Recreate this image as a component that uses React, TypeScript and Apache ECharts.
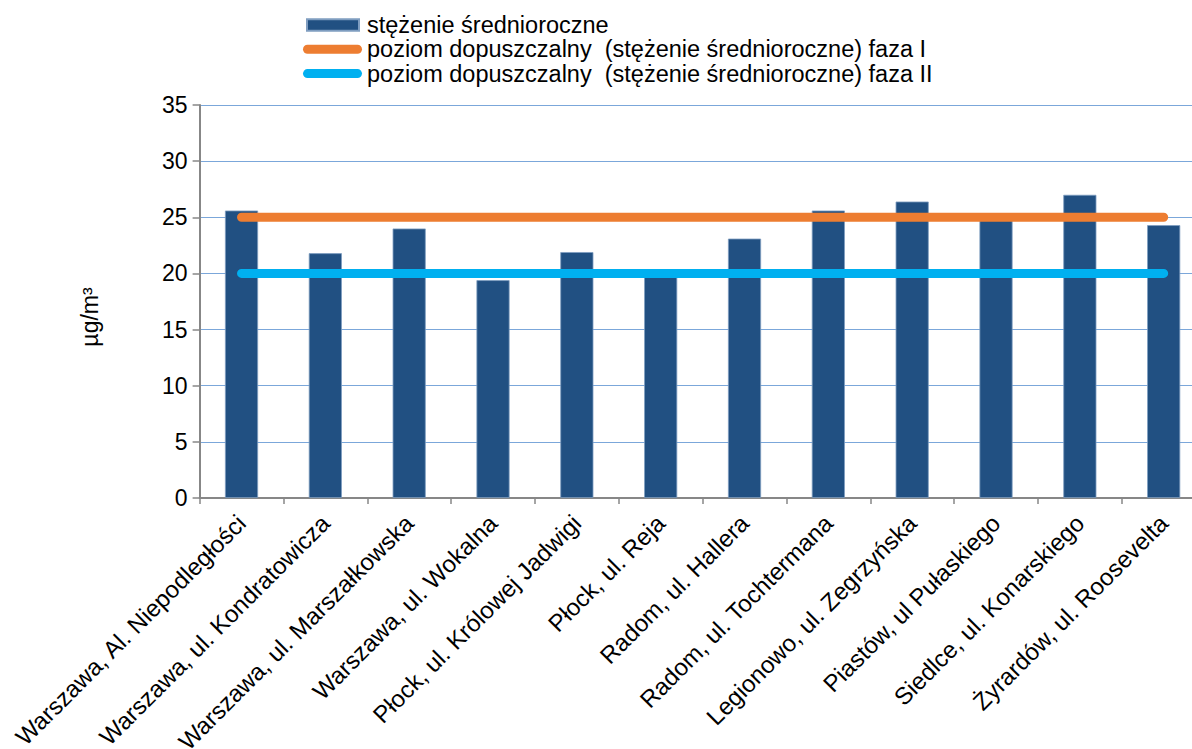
import React, { useEffect, useRef } from "react";
import * as echarts from "echarts";

const categories = [
  "Warszawa, Al. Niepodległości",
  "Warszawa, ul. Kondratowicza",
  "Warszawa, ul. Marszałkowska",
  "Warszawa, ul. Wokalna",
  "Płock, ul. Królowej Jadwigi",
  "Płock, ul. Reja",
  "Radom, ul. Hallera",
  "Radom, ul. Tochtermana",
  "Legionowo, ul. Zegrzyńska",
  "Piastów, ul Pułaskiego",
  "Siedlce, ul. Konarskiego",
  "Żyrardów, ul. Roosevelta",
];

const annualMean = [25.6, 21.8, 24.0, 19.4, 21.9, 19.8, 23.1, 25.6, 26.4, 24.9, 27.0, 24.3];
const limitPhase1 = [25, 25, 25, 25, 25, 25, 25, 25, 25, 25, 25, 25];
const limitPhase2 = [20, 20, 20, 20, 20, 20, 20, 20, 20, 20, 20, 20];

const seriesNames = [
  "stężenie średnioroczne",
  "poziom dopuszczalny  (stężenie średnioroczne) faza I",
  "poziom dopuszczalny  (stężenie średnioroczne) faza II",
];

const yAxisTitle = "µg/m³";

const FONT = "'Liberation Sans', Arial, sans-serif";
const lineIcon = "path://M4.5,0 L54.5,0 A4.5,4.5 0 0 1 54.5,9 L4.5,9 A4.5,4.5 0 0 1 4.5,0 Z";
const barIcon = "path://M0,0 L0,0 Z M59,14 L59,14 Z M4,1.3 L56,1.3 L56,12.7 L4,12.7 Z";

export default function App() {
  const ref = useRef<HTMLDivElement>(null);

  useEffect(() => {
    document.body.style.margin = "0";
    const chart = echarts.init(ref.current!, undefined, { renderer: "svg" });
    chart.setOption({
      animation: false,
      backgroundColor: "#ffffff",
      textStyle: { fontFamily: FONT },
      legend: {
        orient: "vertical",
        left: 302,
        top: 13,
        padding: 0,
        itemWidth: 59,
        itemHeight: 14,
        itemGap: 0.3,
        textStyle: { fontFamily: FONT, fontSize: 23.5, lineHeight: 24, color: "#000" },
        data: [
          { name: seriesNames[0], icon: barIcon },
          { name: seriesNames[1], icon: lineIcon },
          { name: seriesNames[2], icon: lineIcon },
        ],
      },
      grid: { left: 199.6, top: 105, width: 1006, height: 393, outerBoundsMode: "none", containLabel: false },
      xAxis: {
        type: "category",
        data: categories,
        axisLine: { show: true, lineStyle: { color: "#878787", width: 2 } },
        axisTick: { show: true, length: 6, lineStyle: { color: "#878787", width: 1.5 } },
        axisLabel: {
          rotate: 45,
          interval: 0,
          fontFamily: FONT,
          fontSize: 24,
          color: "#000",
          margin: 21,
          hideOverlap: false,
        },
      },
      yAxis: {
        type: "value",
        min: 0,
        max: 35,
        interval: 5,
        axisLine: { show: true, lineStyle: { color: "#878787", width: 2 } },
        axisTick: { show: true, length: 7, lineStyle: { color: "#878787", width: 1.5 } },
        axisLabel: { fontFamily: FONT, fontSize: 23, color: "#000", margin: 12 },
        splitLine: { show: true, lineStyle: { color: "#7ba7da", width: 1.2 } },
      },
      graphic: [
        {
          type: "text",
          x: 90,
          y: 317,
          rotation: Math.PI / 2,
          style: {
            text: yAxisTitle,
            fontFamily: FONT,
            fontSize: 23,
            fill: "#000",
            align: "center",
            verticalAlign: "middle",
          },
        },
      ],
      series: [
        {
          name: seriesNames[0],
          type: "bar",
          data: annualMean,
          barWidth: "39.5%",
          itemStyle: { color: "#215082", borderColor: "#7f9dc0", borderWidth: 0.8 },
        },
        {
          name: seriesNames[1],
          type: "line",
          data: limitPhase1,
          symbol: "none",
          lineStyle: { color: "#ed7d31", width: 9, cap: "round" },
          itemStyle: { color: "#ed7d31" },
        },
        {
          name: seriesNames[2],
          type: "line",
          data: limitPhase2,
          symbol: "none",
          lineStyle: { color: "#00b0f0", width: 9, cap: "round" },
          itemStyle: { color: "#00b0f0" },
        },
      ],
    });
    return () => chart.dispose();
  }, []);

  return (
    <div
      ref={ref}
      style={{ position: "fixed", left: 0, top: 0, width: "1192px", height: "749px" }}
    />
  );
}
